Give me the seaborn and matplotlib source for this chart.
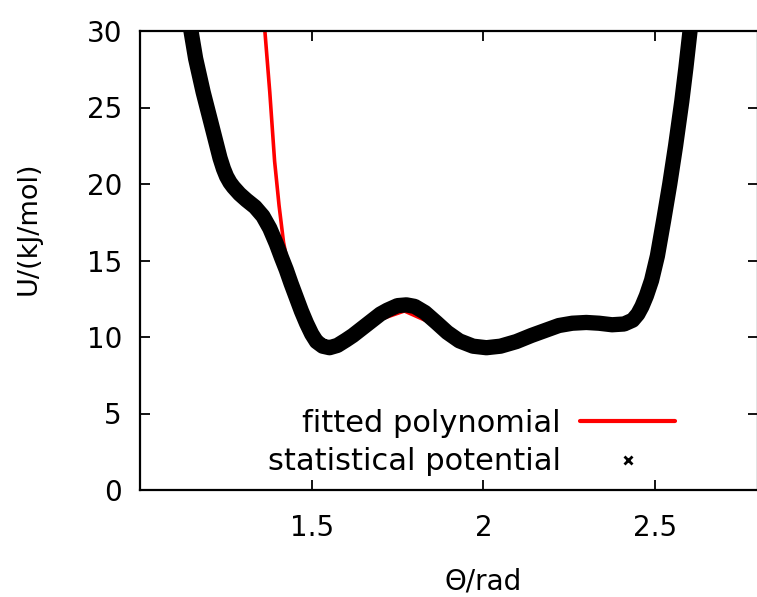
import numpy as np
import pandas as pd
import matplotlib
matplotlib.use("Agg")
import matplotlib.pyplot as plt
from matplotlib.lines import Line2D
import seaborn as sns

# statistical potential
theta_stat = [1.147, 1.162, 1.184, 1.208, 1.233, 1.243, 1.252, 1.262, 1.272, 1.290,
              1.310, 1.335, 1.358, 1.378, 1.397, 1.412, 1.426, 1.440, 1.455, 1.470,
              1.485, 1.500, 1.514, 1.532, 1.552, 1.575, 1.600, 1.620, 1.640, 1.660,
              1.680, 1.700, 1.720, 1.750, 1.776, 1.800, 1.830, 1.863, 1.895, 1.930,
              1.970, 2.009, 2.050, 2.096, 2.140, 2.183, 2.220, 2.259, 2.300, 2.337,
              2.375, 2.410, 2.435, 2.450, 2.462, 2.475, 2.490, 2.507, 2.525, 2.543,
              2.560, 2.578, 2.590, 2.603]
u_stat = [30.2, 28.2, 26.0, 23.9, 21.7, 21.0, 20.5, 20.1, 19.8, 19.35,
          18.95, 18.5, 17.9, 17.1, 16.1, 15.2, 14.4, 13.5, 12.6, 11.7,
          10.9, 10.2, 9.7, 9.4, 9.3, 9.45, 9.8, 10.1, 10.45, 10.8,
          11.15, 11.5, 11.75, 12.05, 12.1, 12.0, 11.6, 10.95, 10.3, 9.75,
          9.4, 9.3, 9.4, 9.7, 10.1, 10.45, 10.75, 10.9, 10.95, 10.9,
          10.8, 10.85, 11.1, 11.5, 12.0, 12.7, 13.7, 15.3, 17.6, 20.0,
          22.5, 25.4, 27.6, 30.2]

# fitted polynomial
theta_fit = [1.363, 1.378, 1.392, 1.405, 1.418, 1.432, 1.455, 1.485, 1.514, 1.550,
             1.600, 1.680, 1.770, 1.850, 1.930, 2.010, 2.100, 2.180, 2.260, 2.360,
             2.430, 2.470, 2.500, 2.530, 2.550, 2.575, 2.600]
u_fit = [30.2, 26.0, 21.5, 18.6, 16.2, 14.6, 12.5, 10.6, 9.5, 9.15,
         9.7, 11.0, 11.7, 10.9, 9.7, 9.3, 9.7, 10.4, 10.8, 10.7,
         11.1, 12.4, 15.0, 18.4, 21.7, 25.4, 30.0]

df_stat = pd.DataFrame({"theta": theta_stat, "U": u_stat})
df_fit = pd.DataFrame({"theta": theta_fit, "U": u_fit})

sns.set_style("ticks")
plt.rcParams["font.family"] = ["DejaVu Sans"]
plt.rcParams["text.color"] = "black"
plt.rcParams["axes.labelcolor"] = "black"
plt.rcParams["xtick.color"] = "black"
plt.rcParams["ytick.color"] = "black"

fig = plt.figure(figsize=(7.57, 5.97), dpi=100)
ax = fig.add_axes([140 / 757, 107 / 597, 618 / 757, 459 / 597])

sns.lineplot(data=df_fit, x="theta", y="U", sort=False, estimator=None,
             color="red", linewidth=2.6, ax=ax, zorder=2)
sns.lineplot(data=df_stat, x="theta", y="U", sort=False, estimator=None,
             color="black", linewidth=11, ax=ax, zorder=3,
             solid_joinstyle="round", solid_capstyle="butt")

ax.set_xlim(1.0, 2.8)
ax.set_ylim(0, 30)
ax.set_xticks([1.5, 2, 2.5])
ax.set_xticklabels(["1.5", "2", "2.5"])
ax.set_yticks([0, 5, 10, 15, 20, 25, 30])

ax.tick_params(direction="in", length=7, width=1.3, top=True, right=True,
               labelsize=20, color="black", labelcolor="black")
ax.tick_params(axis="x", pad=17)
ax.tick_params(axis="y", pad=13)
for s in ax.spines.values():
    s.set_linewidth(1.6)
    s.set_color("black")

ax.set_xlabel("Θ/rad", fontsize=20)
ax.set_ylabel("U/(kJ/mol)", fontsize=19.5)
ax.xaxis.set_label_coords(0.556, -0.168)
ax.yaxis.set_label_coords(-0.159, 0.571)

handles = [Line2D([], [], color="red", linewidth=3),
           Line2D([], [], color="black", marker="x", linestyle="none",
                  markersize=6, markeredgewidth=2)]
ax.legend(handles, ["fitted polynomial", "statistical potential"],
          loc="lower right", bbox_to_anchor=(0.866, 0.03), frameon=False,
          markerfirst=False, handlelength=3.1, handletextpad=0.65,
          labelspacing=0.3, borderpad=0, borderaxespad=0, fontsize=22)

fig.savefig("out.png", dpi=100)
